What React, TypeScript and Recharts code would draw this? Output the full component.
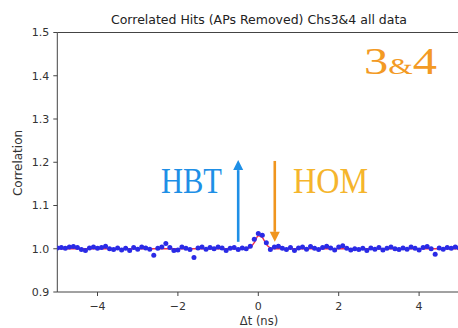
import { ComposedChart, Line, XAxis, YAxis, ReferenceLine } from 'recharts';

// time offset (ns), measured correlation, fitted curve
const deltaT = [
  -5.0, -4.9, -4.8, -4.7, -4.6, -4.5, -4.4, -4.3, -4.2, -4.1,
  -4.0, -3.9, -3.8, -3.7, -3.6, -3.5, -3.4, -3.3, -3.2, -3.1,
  -3.0, -2.9, -2.8, -2.7, -2.6, -2.5, -2.4, -2.3, -2.2, -2.1,
  -2.0, -1.9, -1.8, -1.7, -1.6, -1.5, -1.4, -1.3, -1.2, -1.1,
  -1.0, -0.9, -0.8, -0.7, -0.6, -0.5, -0.4, -0.3, -0.2, -0.1,
  0.0, 0.1, 0.2, 0.3, 0.4, 0.5, 0.6, 0.7, 0.8, 0.9,
  1.0, 1.1, 1.2, 1.3, 1.4, 1.5, 1.6, 1.7, 1.8, 1.9,
  2.0, 2.1, 2.2, 2.3, 2.4, 2.5, 2.6, 2.7, 2.8, 2.9,
  3.0, 3.1, 3.2, 3.3, 3.4, 3.5, 3.6, 3.7, 3.8, 3.9,
  4.0, 4.1, 4.2, 4.3, 4.4, 4.5, 4.6, 4.7, 4.8, 4.9,
  5.0,
];

const correlation = [
  1.002, 1.003, 1.001, 1.004, 1.005, 1.003, 0.998, 0.996, 1.002, 1.004,
  1.001, 1.003, 1.006, 1.000, 0.998, 1.002, 0.997, 1.001, 0.996, 1.003,
  0.999, 1.004, 1.002, 0.999, 0.985, 1.001, 1.004, 1.012, 1.003, 0.996,
  0.997, 1.004, 1.001, 0.998, 0.980, 1.002, 1.004, 0.999, 1.003, 1.000,
  1.004, 1.002, 0.996, 1.001, 1.003, 0.998, 1.002, 1.000, 1.006, 1.022,
  1.035, 1.031, 1.014, 0.998, 1.004, 1.006, 1.001, 0.998, 1.003, 0.996,
  1.002, 1.004, 0.999, 1.005, 1.001, 0.998, 1.003, 1.006, 1.002, 0.997,
  1.004, 1.007, 1.001, 0.997, 1.000, 0.998, 1.001, 0.996, 1.002, 0.999,
  1.003, 0.997, 1.001, 1.004, 1.000, 0.998, 1.002, 0.999, 1.004, 1.001,
  0.997, 1.003, 1.005, 1.000, 0.987, 1.002, 0.999, 1.003, 1.001, 1.004,
  1.002,
];

const fit = [
  1.0, 1.0, 1.0, 1.0, 1.0, 1.0, 1.0, 1.0, 1.0, 1.0,
  1.0, 1.0, 1.0, 1.0, 1.0, 1.0, 1.0, 1.0, 1.0, 1.0,
  1.0, 1.0, 1.0, 1.0, 1.0, 1.0, 1.0, 1.0, 1.0, 1.0,
  1.0, 1.0, 1.0, 1.0, 1.0, 1.0, 1.0, 1.0, 1.0, 1.0,
  1.0, 1.0, 1.0, 1.0, 1.0, 1.0, 1.0, 1.0, 1.003, 1.014,
  1.030, 1.026, 1.010, 1.002, 1.0, 1.0, 1.0, 1.0, 1.0, 1.0,
  1.0, 1.0, 1.0, 1.0, 1.0, 1.0, 1.0, 1.0, 1.0, 1.0,
  1.0, 1.0, 1.0, 1.0, 1.0, 1.0, 1.0, 1.0, 1.0, 1.0,
  1.0, 1.0, 1.0, 1.0, 1.0, 1.0, 1.0, 1.0, 1.0, 1.0,
  1.0, 1.0, 1.0, 1.0, 1.0, 1.0, 1.0, 1.0, 1.0, 1.0,
  1.0,
];

const xTicks = [-4, -2, 0, 2, 4];
const yTicks = [0.9, 1.0, 1.1, 1.2, 1.3, 1.4, 1.5];
const X_DOMAIN = [-5, 5];
const Y_DOMAIN = [0.9, 1.5];

// arrows: position in data coords
const hbtArrow = { t: -0.5, from: 1.016, to: 1.205 };
const homArrow = { t: 0.41, from: 1.203, to: 1.016 };

const data = deltaT.map((t, i) => ({ t, corr: correlation[i], fit: fit[i] }));

const PLOT = { left: 57.3, right: 459.3, top: 32.5, bottom: 292 };
const W = 462;
const H = 328;

const px = (t: number) =>
  PLOT.left + ((t - X_DOMAIN[0]) / (X_DOMAIN[1] - X_DOMAIN[0])) * (PLOT.right - PLOT.left);
const py = (v: number) =>
  PLOT.bottom - ((v - Y_DOMAIN[0]) / (Y_DOMAIN[1] - Y_DOMAIN[0])) * (PLOT.bottom - PLOT.top);

const FONT = '"DejaVu Sans", sans-serif';
const SERIF = '"Liberation Serif", "DejaVu Serif", serif';
const AXIS = '#444';
const TEXT = '#333';

const fmtX = (v: number) => (v < 0 ? `\u2212${Math.abs(v)}` : `${v}`);

function Arrow({ t, from, to, color }: { t: number; from: number; to: number; color: string }) {
  const x = px(t);
  const y0 = py(from);
  const y1 = py(to);
  const dir = y1 < y0 ? 1 : -1; // 1 = pointing up
  const headLen = 10;
  const headW = 5;
  const yBase = y1 + dir * headLen;
  return (
    <g>
      <line x1={x} y1={y0} x2={x} y2={yBase} stroke={color} strokeWidth={2.6} />
      <polygon points={`${x},${y1} ${x - headW},${yBase} ${x + headW},${yBase}`} fill={color} />
    </g>
  );
}

export default function App() {
  return (
    <div style={{ position: 'fixed', left: 0, top: 0, width: 458, height: 328, overflow: 'hidden', background: '#fff' }}>
      <ComposedChart
        width={W}
        height={H}
        data={data}
        margin={{ top: PLOT.top, right: W - PLOT.right, bottom: 0, left: 0 }}
      >
        <XAxis
          type="number"
          dataKey="t"
          domain={X_DOMAIN}
          ticks={xTicks}
          tickFormatter={fmtX}
          height={H - PLOT.bottom}
          stroke={AXIS}
          tickSize={4}
          tickMargin={6}
          tick={{ fill: TEXT, fontSize: 11, fontFamily: FONT }}
          allowDataOverflow
        />
        <YAxis
          type="number"
          domain={Y_DOMAIN}
          ticks={yTicks}
          tickFormatter={(v: number) => v.toFixed(1)}
          width={PLOT.left}
          stroke={AXIS}
          tickSize={4}
          tickMargin={4}
          tick={{ fill: TEXT, fontSize: 11, fontFamily: FONT }}
          allowDataOverflow
        />
        <ReferenceLine y={1.5} stroke={AXIS} strokeWidth={1} />
        <Line
          dataKey="corr"
          stroke="none"
          dot={{ r: 2.5, fill: '#2a2ae6', stroke: 'none' }}
          isAnimationActive={false}
        />
        <Line
          dataKey="fit"
          type="monotone"
          stroke="#ee2f4f"
          strokeWidth={1.4}
          dot={false}
          isAnimationActive={false}
        />
      </ComposedChart>
      <svg
        width={458}
        height={328}
        style={{ position: 'absolute', left: 0, top: 0, pointerEvents: 'none' }}
      >
        <text x={259} y={23.5} textAnchor="middle" fontSize={12.5} fontFamily={FONT} fill="#222">
          Correlated Hits (APs Removed) Chs3&amp;4 all data
        </text>
        <text
          x={0}
          y={0}
          transform="translate(22,163) rotate(-90)"
          textAnchor="middle"
          fontSize={12}
          fontFamily={FONT}
          fill={TEXT}
        >
          Correlation
        </text>
        <text x={259} y={324.5} textAnchor="middle" fontSize={11.5} fontFamily={FONT} fill={TEXT}>
          Δt (ns)
        </text>

        <text x={364} y={74} fontSize={37} fontFamily={SERIF} fill="#f39a24" textLength={73} lengthAdjust="spacingAndGlyphs">
          3<tspan fontSize={24}>&amp;</tspan>4
        </text>

        <text x={161} y={193} fontSize={36} fontFamily={SERIF} fill="#1e8fe6" textLength={61} lengthAdjust="spacingAndGlyphs">
          HBT
        </text>
        <text x={293} y={193} fontSize={36} fontFamily={SERIF} fill="#f5b52c" textLength={75} lengthAdjust="spacingAndGlyphs">
          HOM
        </text>

        <Arrow {...hbtArrow} color="#1e8fe6" />
        <Arrow {...homArrow} color="#f0951e" />
      </svg>
    </div>
  );
}
